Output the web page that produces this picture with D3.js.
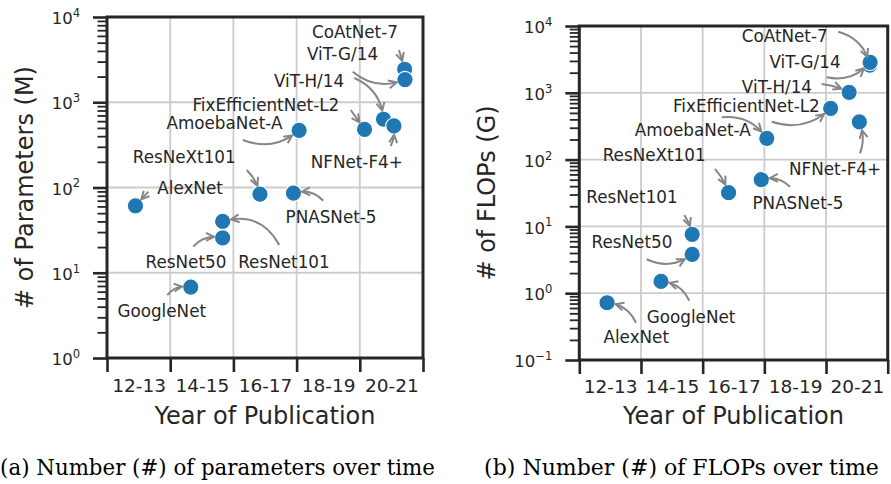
<!DOCTYPE html>
<html>
<head>
<meta charset="utf-8">
<script src="https://cdn.jsdelivr.net/npm/d3@7"></script>
<style>
  html, body { margin: 0; padding: 0; background: #fff; }
  svg { display: block; }
</style>
</head>
<body>
<svg id="fig" width="891" height="484"></svg>
<script>
// ---- data -------------------------------------------------------------
const models = ["AlexNet", "GoogleNet", "ResNet50", "ResNet101", "ResNeXt101",
  "PNASNet-5", "AmoebaNet-A", "FixEfficientNet-L2", "ViT-H/14", "NFNet-F4+",
  "CoAtNet-7", "ViT-G/14"];
// publication date as fractional year
const pubYear = [2012.9, 2014.65, 2015.66, 2015.66, 2016.84, 2017.9, 2018.08,
  2020.15, 2020.75, 2021.08, 2021.42, 2021.43];
// number of parameters, millions
const paramsM = [61, 6.8, 25.6, 40, 83.6, 86.1, 469, 480, 632, 527, 2440, 1843];
// number of FLOPs, giga
const flopsG = [0.72, 1.5, 3.8, 7.6, 32, 50, 208, 585, 1016, 367, 2586, 2859];

const yearTicks = [2012, 2014, 2016, 2018, 2020, 2022];
const periodCenters = [2013, 2015, 2017, 2019, 2021];
const periodLabels = ["12-13", "14-15", "16-17", "18-19", "20-21"];
const paramDecades = [1, 10, 100, 1000, 10000];
const flopDecades = [0.1, 1, 10, 100, 1000, 10000];

// ---- annotation layout: [text dx, text dy, tail dx, tail dy, arc rad] in px from the marker
const paramNotes = [
  [54.6, -17.5, 12.9, -14.1, 0],
  [-29, 24, -23.4, 8, -0.3],
  [-36.7, 23.7, -29.4, 8.7, -0.3],
  [61.3, 40.3, 56.6, 23.6, 0.4],
  [-75.7, -37.4, -13.2, -24.1, -0.15],
  [37.6, 23.7, 29.9, 7.7, 0.3],
  [-74.7, -7.3, -56.4, 9.7, 0.3],
  [-98.7, -24.7, -13.8, -19.4, 0],
  [-74.5, -38.2, -29.2, -41.2, -0.3],
  [-37.2, 36.3, -3.2, 20, 0.15],
  [-49.7, -37.5, -5.7, -19.2, 0],
  [-62.5, -25.6, -52.3, -7.9, 0.3]
];
const flopNotes = [
  [29.2, 34.6, 28.9, 20, 0.3],
  [30, 35.3, 28.3, 19.3, 0.3],
  [-60.2, -12.2, -45.5, 4.8, 0.3],
  [-60.2, -37.1, -7.9, -19.4, -0.1],
  [-74.4, -37.7, -13.6, -23.7, -0.1],
  [36.7, 23.6, 28.7, 7, 0.3],
  [-74, -8.4, -45.1, -21.1, -0.3],
  [-84.3, -2.6, -58.9, 13.4, 0.3],
  [-72.2, -5.7, -27.5, -8.4, -0.1],
  [-24.3, 47.4, 0.7, 31.4, 0.2],
  [-85.1, -29.2, -31.5, -33.5, -0.3],
  [-65.1, -0.6, -43.4, 15, 0.3]
];

// ---- drawing ----------------------------------------------------------
const svg = d3.select("#fig");
const INK = "#262626";
const SANS = "'DejaVu Sans', sans-serif";
const R = 8.2;

function minorsFor(decades) {
  const out = [];
  decades.slice(0, -1).forEach(d => { for (let k = 2; k <= 9; k++) out.push(d * k); });
  return out;
}

function supExp(v) {
  const e = Math.round(Math.log10(v));
  return e < 0 ? "\u2212" + Math.abs(e) : String(e);
}

function curvedArrow(g, tail, c, rad, cut) {
  const dx = c[0] - tail[0], dy = c[1] - tail[1];
  const ctrl = [(tail[0] + c[0]) / 2 - rad * dy, (tail[1] + c[1]) / 2 + rad * dx];
  const B = t => [
    (1 - t) * (1 - t) * tail[0] + 2 * (1 - t) * t * ctrl[0] + t * t * c[0],
    (1 - t) * (1 - t) * tail[1] + 2 * (1 - t) * t * ctrl[1] + t * t * c[1]
  ];
  let t = 1;
  while (t > 0.05) {
    const p = B(t);
    if (Math.hypot(p[0] - c[0], p[1] - c[1]) >= cut) break;
    t -= 0.002;
  }
  const q1 = [tail[0] + t * (ctrl[0] - tail[0]), tail[1] + t * (ctrl[1] - tail[1])];
  const end = B(t);
  let ux = end[0] - q1[0], uy = end[1] - q1[1];
  const n = Math.hypot(ux, uy) || 1; ux /= n; uy /= n;
  const hl = 8, hw = 4;
  const bx = end[0] - ux * hl, by = end[1] - uy * hl;
  const a1 = [bx - uy * hw, by + ux * hw], a2 = [bx + uy * hw, by - ux * hw];
  g.append("path")
    .attr("d", `M${tail[0]},${tail[1]}Q${q1[0]},${q1[1]} ${end[0]},${end[1]}`)
    .attr("fill", "none").attr("stroke", "#868686").attr("stroke-width", 2);
  g.append("path")
    .attr("d", `M${a1[0]},${a1[1]}L${end[0]},${end[1]}L${a2[0]},${a2[1]}`)
    .attr("fill", "none").attr("stroke", "#868686").attr("stroke-width", 2)
    .attr("stroke-linejoin", "miter");
}

function drawPanel(cfg) {
  const x = d3.scaleLinear().domain([2012, 2022]).range(cfg.xRange);
  const y = d3.scaleLog().domain([cfg.decades[0], cfg.decades[cfg.decades.length - 1]]).range(cfg.yRange);
  const [x0, x1] = cfg.xRange, [yb, yt] = cfg.yRange;
  const g = svg.append("g");

  // grid
  const grid = g.append("g").attr("stroke", "#cccccc").attr("stroke-width", 1.8);
  grid.selectAll("line.gx").data(yearTicks.slice(1, -1)).join("line")
    .attr("x1", d => x(d)).attr("x2", d => x(d)).attr("y1", yt).attr("y2", yb);
  grid.selectAll("line.gy").data(cfg.decades.slice(1, -1)).join("line")
    .attr("x1", x0).attr("x2", x1).attr("y1", d => y(d)).attr("y2", d => y(d));

  // x axis: tick marks at year boundaries, labels at period centres
  const xTicks = g.append("g").attr("transform", `translate(0,${yb})`)
    .call(d3.axisBottom(x).tickValues(yearTicks).tickSize(14).tickFormat(""));
  xTicks.selectAll(".tick line").attr("stroke", INK).attr("stroke-width", 2.6);
  const xLab = g.append("g").attr("transform", `translate(0,${yb})`)
    .call(d3.axisBottom(x).tickValues(periodCenters).tickSize(0)
      .tickPadding(cfg.xLabelPad).tickFormat((d, i) => periodLabels[i]));
  xLab.selectAll(".tick text").attr("fill", INK).attr("font-family", SANS).attr("font-size", 18.5);

  // y axis: minor + major ticks, 10^n labels
  const yMinor = g.append("g").attr("transform", `translate(${x0},0)`)
    .call(d3.axisLeft(y).tickValues(minorsFor(cfg.decades)).tickSize(9.5).tickFormat(""));
  yMinor.selectAll(".tick line").attr("stroke", INK).attr("stroke-width", 1.8);
  const yMajor = g.append("g").attr("transform", `translate(${x0},0)`)
    .call(d3.axisLeft(y).tickValues(cfg.decades).tickSize(14).tickPadding(13));
  yMajor.selectAll(".tick line").attr("stroke", INK).attr("stroke-width", 2.6);
  yMajor.selectAll(".tick text").each(function (d) {
    const t = d3.select(this);
    t.text(null).attr("fill", INK).attr("font-family", SANS).attr("font-size", 16.5).attr("dy", "0.4em");
    t.append("tspan").text("10");
    t.append("tspan").attr("dy", "-0.62em").attr("font-size", "0.7em").text(supExp(d));
  });
  g.selectAll(".domain").remove();

  // axis titles
  g.append("text").attr("x", (x0 + x1) / 2).attr("y", cfg.xTitleY)
    .attr("text-anchor", "middle").attr("fill", INK).attr("font-family", SANS)
    .attr("font-size", 24).text("Year of Publication");
  g.append("text").attr("transform", `translate(${cfg.yTitleX},${(yb + yt) / 2}) rotate(-90)`)
    .attr("text-anchor", "middle").attr("fill", INK).attr("font-family", SANS)
    .attr("font-size", 24).text(cfg.yTitle);

  // markers
  const pts = models.map((m, i) => [x(pubYear[i]), y(cfg.values[i])]);
  g.append("g").selectAll("circle").data(pts).join("circle")
    .attr("cx", d => d[0]).attr("cy", d => d[1]).attr("r", R)
    .attr("fill", "#1f77b4").attr("stroke", "#fff").attr("stroke-width", 1.2);

  // annotation arrows and names
  const ga = g.append("g");
  pts.forEach((p, i) => {
    const [tdx, tdy, adx, ady, rad] = cfg.notes[i];
    curvedArrow(ga, [p[0] + adx, p[1] + ady], p, rad, R + 0.5);
  });
  g.append("g").selectAll("text").data(pts).join("text")
    .attr("x", (d, i) => d[0] + cfg.notes[i][0])
    .attr("y", (d, i) => d[1] + cfg.notes[i][1] + 6.1)
    .attr("text-anchor", "middle").attr("fill", INK)
    .attr("font-family", SANS).attr("font-size", 16.8)
    .text((d, i) => models[i]);

  // frame
  g.append("rect").attr("x", x0).attr("y", yt).attr("width", x1 - x0).attr("height", yb - yt)
    .attr("fill", "none").attr("stroke", INK).attr("stroke-width", 3);

  // caption, sized to its span
  const cap = g.append("text").attr("x", cfg.capCenter).attr("y", 475)
    .attr("text-anchor", "middle").attr("fill", "#000")
    .attr("font-family", "'DejaVu Serif', serif").attr("font-size", 20).text(cfg.caption);
  const w = cap.node().getComputedTextLength();
  cap.attr("font-size", 20 * cfg.capWidth / w);
}

drawPanel({
  xRange: [107, 423], yRange: [358, 17], decades: paramDecades, values: paramsM,
  notes: paramNotes, xLabelPad: 21, xTitleY: 424, yTitle: "# of Parameters (M)", yTitleX: 33.3,
  caption: "(a) Number (#) of parameters over time", capCenter: 217.5, capWidth: 435
});
drawPanel({
  xRange: [579.3, 887.7], yRange: [360, 26], decades: flopDecades, values: flopsG,
  notes: flopNotes, xLabelPad: 19.5, xTitleY: 424, yTitle: "# of FLOPs (G)", yTitleX: 494.5,
  caption: "(b) Number (#) of FLOPs over time", capCenter: 681.5, capWidth: 395
});
</script>
</body>
</html>
